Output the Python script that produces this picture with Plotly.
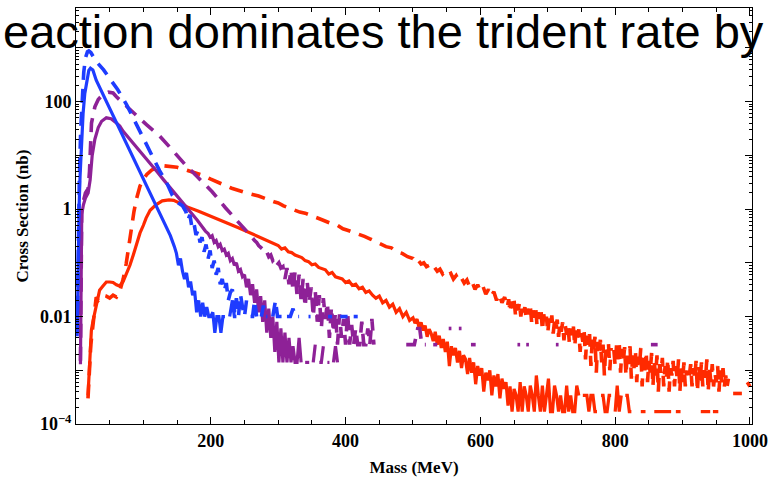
import plotly.graph_objects as go

# ---- cross sections (nb) versus mass (MeV); None marks empty bins ----

blue_solid_mass = [1.8, 2.5, 3.2, 4.5, 6, 8, 10.5, 13, 16, 19, 21.5, 25, 30, 40, 50, 60, 70, 80, 90,
                   100, 110, 120, 130, 140, 146, 149, 152, 155, 158, 161, 164, 167, 170, 173, 176,
                   179, 182, 185, 188, 191, 194, 197, 200, 203, 206, 209, 212, 215, 218, 221, 224,
                   228, 232, 235, 238]
blue_solid_xsec = [0.0043, 0.03, 0.15, 1.0, 4, 15, 60, 140, 260, 380, 420, 390, 250, 136, 74, 41, 22,
                   12, 6.6, 3.6, 1.95, 1.07, 0.58, 0.32, 0.2, 0.15, 0.09, 0.12, 0.07, 0.05, 0.065,
                   0.035, 0.045, 0.025, 0.03, 0.012, 0.02, 0.01, 0.018, 0.01, 0.015, 0.01, 0.01,
                   0.012, 0.005, 0.01, 0.01, 0.005, 0.01, 0.01, None, 0.01, 0.02, 0.01, 0.01]

blue_dashed_mass = [1.8, 2.5, 3.5, 5, 7, 9, 11.5, 14, 17, 19, 22, 30, 41, 50, 62, 75, 85, 95, 105,
                    114, 124, 134, 143, 150, 158, 163, 166, 169, 172, 175, 178, 181, 184, 187, 190,
                    193, 196, 199, 202, 205, 208, 211, 214, 217, 220, 223, 226, 229, 232, 235, 238,
                    241, 244, 247, 250, 253, 256, 259, 262, 265, 268, 271, 275, 278, 281, 284, 287,
                    292, 296, 299, 302, 305, 308, 313, 318, 322, 325, 328, 331, 334, 345, 348, 351,
                    374, 380, 385, 392, 398, 403, 406, 412, 418]
blue_dashed_xsec = [0.005, 0.05, 0.5, 4, 30, 120, 350, 650, 850, 880, 820, 560, 390, 270, 166, 88,
                    49, 27, 15, 8.7, 5.2, 3.2, 1.8, 1.35, 1.15, 0.9, 0.62, 0.78, 0.46, 0.55, 0.33,
                    0.4, 0.24, 0.3, 0.16, 0.22, 0.12, 0.17, 0.08, 0.11, 0.06, 0.08, 0.04, 0.05,
                    0.03, 0.042, 0.02, 0.028, 0.032, 0.012, 0.022, 0.01, 0.026, 0.015, 0.01, 0.02,
                    None, 0.01, 0.01, 0.02, 0.01, None, 0.01, 0.016, 0.01, 0.01, None, 0.01, 0.02,
                    0.01, 0.01, 0.01, None, 0.01, 0.01, 0.014, 0.01, 0.01, 0.01, None, 0.01, 0.01,
                    None, 0.01, 0.01, None, 0.01, 0.01, 0.01, None, 0.01, 0.01]

purple_solid_mass = [6.6, 7.5, 8.5, 11, 14, 18, 21, 24, 28, 33, 38, 45, 52, 60, 65, 70, 80, 90, 100,
                     110, 120, 130, 140, 153, 165, 180, 192, 196, 199, 202, 205, 208, 211, 214, 217,
                     220, 223, 226, 229, 232, 235, 238, 241, 244, 247, 250, 253, 256, 259, 262, 265,
                     268, 271, 274, 277, 280, 283, 286, 289, 292, 295, 298, 301, 304, 307, 310, 313,
                     316, 319, 322, 325, 328, 331, 334, 337, 340, 343, 346, 349, 352, 355, 358, 361,
                     364, 367, 370, 373, 376, 379, 382, 385, 388]
purple_solid_xsec = [0.0013, 0.1, 0.8, 1.2, 1.6, 2.0, 3.5, 10, 20, 33, 43, 50, 48, 40, 35, 28, 20,
                     14, 10, 7.1, 5, 3.5, 2.5, 1.58, 1.07, 0.62, 0.39, 0.35, 0.3, 0.32, 0.24, 0.26,
                     0.2, 0.22, 0.17, 0.18, 0.14, 0.15, 0.11, 0.12, 0.09, 0.1, 0.07, 0.075, 0.055,
                     0.06, 0.035, 0.05, 0.025, 0.04, 0.018, 0.032, 0.012, 0.024, 0.008, 0.02, 0.005,
                     0.014, 0.004, 0.01, 0.0022, 0.008, 0.0014, 0.006, 0.0014, 0.005, 0.0014, 0.004,
                     0.0014, 0.0028, 0.0014, 0.0014, 0.004, 0.0014, None, 0.0014, 0.0014, 0.0014,
                     None, 0.0014, 0.003, None, 0.0014, 0.0014, 0.0028, None, 0.0014, 0.0014, None,
                     0.0014, 0.0028, 0.0014]

purple_dashed_mass = [6.6, 7.5, 8.5, 11, 14, 18, 20, 23, 28, 33, 40, 48, 55, 60, 65, 75, 90, 105,
                      124, 140, 163, 180, 202, 222, 236, 248, 261, 265, 268, 271, 274, 277, 280,
                      283, 286, 289, 292, 295, 298, 301, 304, 307, 310, 313, 316, 319, 322, 325,
                      328, 331, 334, 337, 340, 343, 346, 349, 352, 355, 358, 361, 364, 367, 370,
                      373, 376, 379, 382, 385, 388, 391, 394, 397, 400, 403, 406, 409, 412, 415,
                      418, 421, 424, 427, 430, 433, 436, 439, 442, 445, 490, 496, 502, 507, 510,
                      513, 519, 524, 530, 536, 540, 553, 557, 561, 568, 572, 576, 586, 593, 597,
                      655, 659, 663, 668, 672, 676, 712, 716, 720, 853, 858, 863]
purple_dashed_xsec = [0.0015, 0.12, 1.0, 1.4, 2.0, 2.4, 5, 40, 80, 110, 135, 150, 145, 123, 107,
                      81, 55, 37, 23, 13.8, 6.5, 4.0, 2.1, 1.05, 0.68, 0.45, 0.3, 0.26, 0.24, 0.21,
                      0.19, 0.18, 0.15, 0.16, 0.13, 0.14, 0.11, 0.12, 0.09, 0.1, 0.08, 0.085,
                      0.05, 0.08, 0.04, 0.075, 0.03, 0.068, 0.025, 0.06, 0.02, 0.05, 0.015, 0.045,
                      0.018, 0.035, 0.01, 0.03, 0.008, 0.025, 0.006, 0.022, 0.009, 0.018, 0.004,
                      0.015, 0.005, 0.012, 0.003, 0.011, 0.004, 0.009, 0.003, 0.012, 0.003, 0.007,
                      0.003, 0.006, 0.003, 0.003, 0.008, 0.003, 0.003, 0.006, 0.003, 0.009, 0.003,
                      None, 0.003, 0.003, 0.003, 0.006, 0.006, 0.003, 0.003, None, 0.003, 0.003,
                      None, 0.006, 0.006, None, 0.006, 0.006, None, 0.003, 0.003, None, 0.003,
                      0.003, None, 0.003, 0.003, None, 0.003, 0.003, None, 0.003, 0.003, 0.003]

red_solid_mass = [17.8, 19, 20.3, 22.8, 25, 27.7, 30.2, 35, 40, 45, 50, 55, 60, 64.5, 70, 74.4, 80,
                  85, 89, 95, 100, 104, 110, 118.6, 128, 138, 145, 153, 165, 182, 210, 241, 270,
                  295, 300, 305, 310, 315, 320, 325, 330, 335, 340, 345, 350, 355, 360, 365, 370,
                  375, 380, 385, 390, 395, 400, 405, 410, 415, 420, 425, 430, 435, 440, 445, 450,
                  455, 460, 465, 470, 475, 480, 485, 490, 495, 500, 503, 506, 509, 512, 515, 518,
                  521, 524, 527, 530, 533, 536, 539, 542, 545, 548, 551, 554, 557, 560, 563, 566,
                  569, 572, 575, 578, 581, 584, 587, 590, 593, 596, 599, 602, 605, 608, 611, 614,
                  617, 620, 623, 626, 629, 632, 635, 638, 641, 644, 647, 650, 653, 656, 659, 662,
                  665, 668, 671, 674, 677, 680, 683, 686, 689, 692, 695, 698, 701, 704, 707, 710,
                  713, 716, 719, 722, 725, 728, 731, 734, 737, 740, 743, 746, 749, 752, 755, 758,
                  761, 764, 767, 770, 773, 776, 779, 782, 785, 788, 791, 794, 797, 800, 803, 806,
                  809, 812, 815, 818, 821, 824, 827, 838, 845, 848, 858, 868, 876, 883, 886, 890,
                  897, 900, 927, 935, 941, 943, 945, 953]
red_solid_xsec = [0.00034, 0.0008, 0.0019, 0.0055, 0.008, 0.0115, 0.017, 0.031, 0.037, 0.044, 0.044,
                  0.043, 0.039, 0.037, 0.045, 0.06, 0.09, 0.14, 0.21, 0.36, 0.5, 0.68, 0.95, 1.2,
                  1.42, 1.48, 1.45, 1.29, 1.1, 0.91, 0.66, 0.45, 0.31, 0.22, 0.21, 0.18, 0.19,
                  0.16, 0.155, 0.14, 0.13, 0.125, 0.11, 0.105, 0.092, 0.095, 0.082, 0.078, 0.074,
                  0.062, 0.066, 0.055, 0.052, 0.05, 0.043, 0.046, 0.038, 0.04, 0.033, 0.035, 0.028,
                  0.03, 0.025, 0.022, 0.024, 0.018, 0.02, 0.015, 0.017, 0.012, 0.014, 0.01, 0.012,
                  0.0085, 0.0095, 0.0075, 0.009, 0.0062, 0.0078, 0.0055, 0.0068, 0.0042, 0.0058,
                  0.0048, 0.0035, 0.0052, 0.003, 0.0044, 0.0026, 0.0038, 0.0022, 0.0034, 0.0012,
                  0.0028, 0.0019, 0.0026, 0.0014, 0.0023, 0.0011, 0.0019, 0.0016, 0.00085, 0.0017,
                  0.0009, 0.0014, 0.00055, 0.0012, 0.0008, 0.0011, 0.0004, 0.0009, 0.00065, 0.001,
                  0.00034, 0.0008, 0.0005, 0.00085, 0.0003, 0.0007, 0.00045, 0.0006, 0.00022,
                  0.0005, 0.00017, 0.00045, 0.00034, 0.00017, 0.0006, 0.00017, 0.0005, 0.00034,
                  0.00017, 0.00052, 0.00034, 0.00017, 0.0008, 0.00034, 0.00017, 0.00052, 0.00017,
                  0.00034, 0.0007, 0.00017, 0.00017, 0.00052, 0.00034, 0.00017, 0.00034, 0.00017,
                  0.00017, 0.00052, 0.00017, 0.00034, 0.00017, 0.00017, 0.00052, 0.00034, None,
                  0.00034, 0.00034, 0.00034, 0.00017, 0.00034, 0.00034, 0.00017, 0.00017, None,
                  0.00034, 0.00034, 0.00017, 0.00017, 0.00034, 0.00034, None, 0.00017, 0.00052,
                  0.00017, 0.00034, None, 0.00034, 0.00034, 0.00017, 0.00017, None, 0.00017,
                  0.00017, None, 0.00017, 0.00017, 0.00017, 0.00017, None, 0.00017, 0.00017, None,
                  0.00017, 0.00017, 0.00017, None, 0.00017, 0.00017]

red_dashed_mass = [17.8, 20, 22, 25, 28, 30, 33, 36, 40, 45, 50, 55, 60, 65, 70, 74.4, 78, 82, 86,
                   90, 95, 100, 105, 112, 120, 130, 140, 150, 162, 175, 187, 200, 215, 231, 250,
                   271, 295, 300, 308, 316, 324, 332, 340, 348, 356, 364, 372, 380, 388, 396, 404,
                   412, 420, 428, 436, 444, 452, 460, 468, 476, 484, 492, 500, 504, 508, 512, 516,
                   520, 524, 528, 532, 536, 540, 544, 548, 552, 556, 560, 564, 568, 572, 576, 580,
                   584, 588, 592, 596, 600, 604, 608, 612, 616, 620, 624, 628, 632, 636,
                   640, 642, 644, 646, 648, 650, 652, 654, 656, 658, 660, 662, 664, 666, 668, 670,
                   672, 674, 676, 678, 680, 682, 684, 686, 688, 690, 692, 694, 696, 698, 700, 702,
                   704, 706, 708, 710, 712, 714, 716, 718, 720, 722, 724, 726, 728, 730, 732, 734,
                   736, 738, 740, 742, 744, 746, 748, 750, 752, 754, 756, 758, 760, 762, 764, 766,
                   768, 770, 772, 774, 776, 778, 780, 782, 784, 786, 788, 790, 792, 794, 796, 798,
                   800, 802, 804, 806, 808, 810, 812, 814, 816, 818, 820, 822, 824, 826, 828, 830,
                   832, 834, 836, 838, 840, 842, 844, 846, 848, 850, 852, 854, 856, 858, 860, 862,
                   864, 866, 868, 870, 872, 874, 876, 878, 880, 882, 884, 886, 888, 890, 892, 894,
                   896, 898, 900, 902, 904, 906, 908, 910, 912, 914, 916, 918, 920, 922, 924, 926,
                   928, 930, 932, 934, 936, 938, 940, 942, 944, 946, 948, 950, 952, 954, 956, 958,
                   960, 962, 964, 966, 968, 970, 975, 988, 992, 996, 1000]
red_dashed_xsec = [0.0003, 0.0015, 0.003, 0.0066, 0.013, 0.023, 0.02, 0.022, 0.025, 0.024, 0.022,
                   0.025, 0.023, 0.03, 0.05, 0.095, 0.2, 0.4, 0.9, 1.6, 2.7, 3.6, 4.4, 5.3, 6.0,
                   6.4, 6.3, 6.0, 5.4, 4.8, 4.3, 3.6, 3.0, 2.45, 2.05, 1.75, 1.35, 1.3, 1.15, 1.05,
                   0.97, 0.88, 0.84, 0.78, 0.7, 0.64, 0.58, 0.53, 0.5, 0.43, 0.4, 0.37, 0.33, 0.31,
                   0.28, 0.25, 0.23, 0.2, 0.19, 0.16, 0.15, 0.13, 0.12, 0.1, 0.11, 0.095, 0.1,
                   0.085, 0.09, 0.075, 0.082, 0.07, 0.076, 0.062, 0.07, 0.06, 0.064, 0.05, 0.058,
                   0.046, 0.052, 0.042, 0.048, 0.036, 0.043, 0.032, 0.039, 0.03, 0.036, 0.026,
                   0.032, 0.024, 0.029, 0.02, 0.026, 0.018, 0.023,
                   0.015, 0.021, 0.012, 0.019, 0.014, 0.02, 0.011, 0.017, 0.013, 0.018, 0.01, 0.016,
                   0.012, 0.015, 0.009, 0.014, 0.011, 0.016, 0.008, 0.013, 0.0095, 0.015, 0.0068,
                   0.012, 0.009, 0.013, 0.0055, 0.011, 0.0075, 0.01, 0.005, 0.0092, 0.0068, 0.0105,
                   0.0048, 0.0082, 0.0058, 0.0088, 0.0042, 0.0075, 0.0052, 0.0078, 0.0036, 0.0068,
                   0.0046, 0.0072, 0.0032, 0.006, 0.0044, 0.0065, 0.0028, 0.0055, 0.0038, 0.0058,
                   0.0022, 0.0049, 0.0034, 0.0052, 0.0016, 0.0044, 0.003, 0.0047, 0.0012, 0.0038,
                   0.0026, 0.0042, 0.0009, 0.0034, 0.0021, 0.0037, 0.0014, 0.003, 0.0008, 0.0028,
                   0.0018, 0.0033, 0.001, 0.0026, None, 0.0024, 0.0012, 0.0029, 0.0016, 0.0032,
                   0.0009, 0.0025, 0.0014, 0.0027, 0.0008, 0.0022, 0.0013, 0.0028, 0.0007, 0.0019,
                   0.0011, 0.0024, 0.0006, 0.0018, 0.0012, 0.0026, 0.0005, 0.0017, 0.001, 0.0022,
                   0.0006, 0.0015, 0.0009, 0.0021, 0.0005, 0.0014, 0.0008, 0.0019, 0.0004, 0.0013,
                   0.0009, 0.0017, 0.0005, 0.0012, 0.0007, 0.0016, 0.0004, 0.0011, 0.0008, 0.0015,
                   0.0005, 0.0012, 0.0007, 0.0016, 0.0004, 0.0011, 0.0006, 0.0014, 0.0005, 0.001,
                   None, 0.0008, 0.0013, 0.0005, 0.0011, 0.0007, 0.0015, 0.0004, 0.0012, 0.0006,
                   0.0014, 0.0005, 0.001, 0.0007, 0.0016, 0.0004, 0.0011, 0.0006, 0.0013, 0.0005,
                   0.0009, 0.0006, 0.0012, 0.0004, 0.001, 0.0006, 0.0011, 0.0005, 0.0008, 0.0005,
                   0.0007, None, 0.00037, 0.00037, None, 0.0006, 0.0005]

# ---- axis ticks ----
mass_ticks = [200, 400, 600, 800, 1000]
mass_tick_text = ["200", "400", "600", "800", "1000"]
xsec_ticks = [1e-4, 1e-3, 1e-2, 1e-1, 1, 10, 100, 1000]
xsec_tick_text = ["10<sup>−4</sup>", "", "0.01", "", "1", "", "100", ""]
xsec_minor_ticks = [m * d for d in xsec_ticks for m in range(2, 10)]

BLUE = "#1e3cff"
PURPLE = "#8e2197"
RED = "#ff2a00"
DASH = "14px,9px"
SERIF = "Liberation Serif"

fig = go.Figure()

curves = [
    (red_dashed_mass, red_dashed_xsec, RED, DASH),
    (red_solid_mass, red_solid_xsec, RED, "solid"),
    (purple_dashed_mass, purple_dashed_xsec, PURPLE, DASH),
    (purple_solid_mass, purple_solid_xsec, PURPLE, "solid"),
    (blue_dashed_mass, blue_dashed_xsec, BLUE, DASH),
    (blue_solid_mass, blue_solid_xsec, BLUE, "solid"),
]
for mass, xsec, color, dash in curves:
    fig.add_trace(go.Scatter(
        x=mass, y=xsec, mode="lines", connectgaps=False,
        line=dict(color=color, width=3.6 if dash != "solid" else 3.2, dash=dash),
        showlegend=False, hoverinfo="skip",
    ))

tick_font = dict(family=SERIF, size=18, color="black", weight="bold")
title_font = dict(family=SERIF, size=17, color="black", weight="bold")

fig.update_xaxes(
    range=[0, 1003], showgrid=False, zeroline=False,
    showline=True, linecolor="black", linewidth=1, mirror="ticks",
    ticks="inside", ticklen=7, tickwidth=1, tickcolor="black",
    tickmode="array", tickvals=mass_ticks, ticktext=mass_tick_text, tickfont=tick_font,
    minor=dict(ticks="inside", ticklen=4, tickwidth=1, tickcolor="black", dtick=50, tick0=0),
    title=dict(text="Mass (MeV)", font=title_font, standoff=11),
)
fig.update_yaxes(
    type="log", range=[-4, 3.743], showgrid=False, zeroline=False,
    showline=True, linecolor="black", linewidth=1, mirror="ticks",
    ticks="inside", ticklen=7, tickwidth=1, tickcolor="black",
    tickmode="array", tickvals=xsec_ticks, ticktext=xsec_tick_text, tickfont=tick_font,
    minor=dict(ticks="inside", ticklen=3, tickwidth=1, tickcolor="black",
               tickmode="array", tickvals=xsec_minor_ticks),
    title=dict(text="Cross Section (nb)", font=title_font, standoff=6),
)

fig.add_annotation(
    text="eaction dominates the trident rate by",
    xref="paper", yref="paper", x=-76 / 681, y=0.944,
    xanchor="left", yanchor="middle", showarrow=False,
    font=dict(family="Liberation Sans", size=47, color="black"),
)

fig.update_layout(
    width=775, height=480,
    margin=dict(l=76, r=18, t=7, b=51),
    paper_bgcolor="white", plot_bgcolor="white",
)

fig.write_html("out.html")
